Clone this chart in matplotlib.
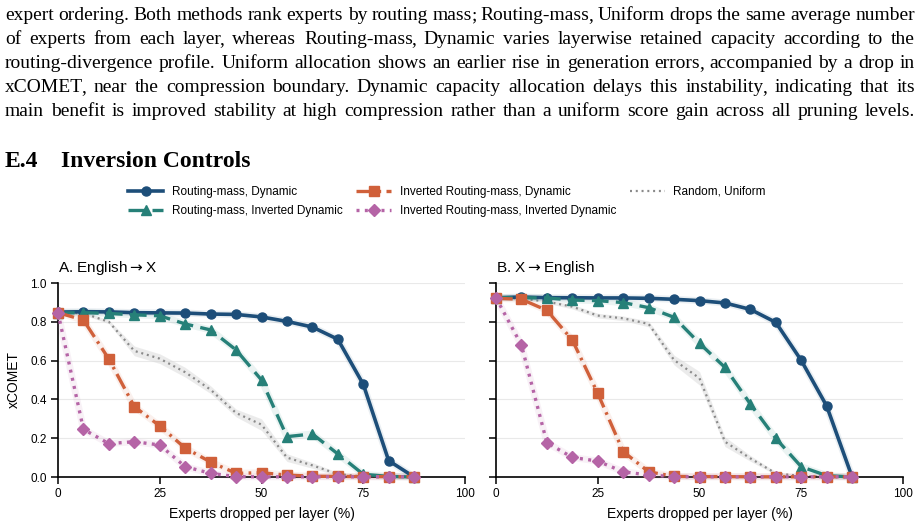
"""
Inversion controls: xCOMET vs. experts dropped per layer, two directions.
"""

import numpy as np
import matplotlib
matplotlib.use("Agg")
import matplotlib.pyplot as plt

# ---- data ----
drop_pct = [0, 6.25, 12.5, 18.75, 25, 31.25, 37.5, 43.75, 50, 56.25, 62.5, 68.75, 75, 81.25, 87.5]

# A. English->X
en_x_rm_dyn = [0.850, 0.852, 0.851, 0.847, 0.846, 0.845, 0.840, 0.838, 0.825, 0.802, 0.773, 0.710, 0.478, 0.084, 0.0]
en_x_rm_invdyn = [0.845, 0.847, 0.843, 0.836, 0.831, 0.789, 0.758, 0.655, 0.500, 0.208, 0.222, 0.119, 0.014, 0.003, 0.0]
en_x_inv_dyn = [0.847, 0.809, 0.608, 0.363, 0.263, 0.149, 0.077, 0.019, 0.022, 0.010, 0.004, 0.003, 0.002, 0.002, 0.001]
en_x_inv_invdyn = [0.847, 0.246, 0.172, 0.182, 0.165, 0.053, 0.019, 0.002, 0.001, 0.001, 0.001, 0.001, 0.001, 0.001, 0.001]
en_x_random = [0.847, 0.844, 0.800, 0.650, 0.610, 0.540, 0.450, 0.330, 0.270, 0.100, 0.060, 0.015, 0.003, 0.0, 0.0]
en_x_random_err = [0.005, 0.008, 0.010, 0.025, 0.025, 0.025, 0.020, 0.020, 0.030, 0.020, 0.015, 0.008, 0.003, 0.0, 0.0]

# B. X->English
x_en_rm_dyn = [0.924, 0.928, 0.924, 0.924, 0.923, 0.923, 0.921, 0.916, 0.909, 0.897, 0.864, 0.797, 0.601, 0.366, 0.0]
x_en_rm_invdyn = [0.924, 0.924, 0.923, 0.912, 0.909, 0.899, 0.873, 0.823, 0.689, 0.565, 0.376, 0.199, 0.053, 0.007, 0.0]
x_en_inv_dyn = [0.921, 0.916, 0.859, 0.706, 0.431, 0.131, 0.027, 0.003, 0.002, 0.002, 0.001, 0.001, 0.001, 0.001, 0.001]
x_en_inv_invdyn = [0.924, 0.680, 0.177, 0.101, 0.082, 0.027, 0.010, 0.002, 0.001, 0.001, 0.001, 0.001, 0.001, 0.001, 0.001]
x_en_random = [0.924, 0.920, 0.904, 0.878, 0.832, 0.818, 0.789, 0.603, 0.509, 0.182, 0.096, 0.019, 0.005, 0.0, 0.0]
x_en_random_err = [0.004, 0.005, 0.008, 0.012, 0.012, 0.012, 0.015, 0.025, 0.035, 0.025, 0.015, 0.008, 0.003, 0.0, 0.0]

panel_titles = ["A. English$\\rightarrow$X", "B. X$\\rightarrow$English"]
legend_labels = ["Routing-mass, Dynamic", "Routing-mass, Inverted Dynamic",
                 "Inverted Routing-mass, Dynamic", "Inverted Routing-mass, Inverted Dynamic",
                 "Random, Uniform"]

paragraph = [
    "expert ordering. Both methods rank experts by routing mass; Routing-mass, Uniform drops the same average number",
    "of experts from each layer, whereas Routing-mass, Dynamic varies layerwise retained capacity according to the",
    "routing-divergence profile. Uniform allocation shows an earlier rise in generation errors, accompanied by a drop in",
    "xCOMET, near the compression boundary. Dynamic capacity allocation delays this instability, indicating that its",
    "main benefit is improved stability at high compression rather than a uniform score gain across all pruning levels.",
]

# ---- styles ----
BLUE = "#1d4e79"
TEAL = "#268078"
ORANGE = "#d0603a"
PINK = "#b564a6"
GRAY = "#8a8a8a"

styles = [
    dict(color=BLUE, marker="o", markersize=6.5, linewidth=2.6, linestyle="-"),
    dict(color=TEAL, marker="^", markersize=7.5, linewidth=2.4, dashes=(5, 2.2)),
    dict(color=ORANGE, marker="s", markersize=6.5, linewidth=2.4, dashes=(5, 1.6, 0.8, 1.6)),
    dict(color=PINK, marker="D", markersize=6, linewidth=2.4, dashes=(0.9, 1.6)),
]

plt.rcParams["font.family"] = ["Liberation Sans", "DejaVu Sans"]
plt.rcParams["mathtext.fontset"] = "dejavusans"

W, H = 921, 530
fig = plt.figure(figsize=(W / 100, H / 100), dpi=100)


def fx(px):
    return px / W


def fy(py):
    return 1 - py / H


# ---- justified paragraph, one text per word ----
renderer = fig.canvas.get_renderer()
left_px, right_px = 5, 915
PUNCT_KERN = 1.5  # pull a split-off , or ; back against its word


def word_text(s, base):
    return fig.text(0, fy(base), s, fontsize=14.0, family="Liberation Serif",
                    va="baseline", ha="left")


for i, line in enumerate(paragraph):
    words = line.split(" ")
    base = 20 + 24 * i
    groups = []
    for w in words:
        # trailing , or ; drawn on its own keeps the baseline steady
        if w[-1] in ",;" and len(w) > 1:
            t1, t2 = word_text(w[:-1], base), word_text(w[-1], base)
            groups.append([(t1, t1.get_window_extent(renderer).width - PUNCT_KERN),
                           (t2, t2.get_window_extent(renderer).width)])
        else:
            t = word_text(w, base)
            groups.append([(t, t.get_window_extent(renderer).width)])
    widths = [sum(pw for _, pw in g) for g in groups]
    gap = (right_px - left_px - sum(widths)) / (len(words) - 1)
    x = left_px
    for g, gw in zip(groups, widths):
        xp = x
        for t, pw in g:
            t.set_x(fx(xp))
            xp += pw
        x += gw + gap

fig.text(fx(5), fy(167), "E.4", fontsize=17, family="Liberation Serif",
         weight="bold", va="baseline")
fig.text(fx(61), fy(167), "Inversion Controls", fontsize=17, family="Liberation Serif",
         weight="bold", va="baseline")

# ---- panels ----
ax_a = fig.add_axes([fx(58), fy(477), fx(407), 194 / H])
ax_b = fig.add_axes([fx(496), fy(477), fx(407), 194 / H], sharey=ax_a)

panels = [
    (ax_a, [en_x_rm_dyn, en_x_rm_invdyn, en_x_inv_dyn, en_x_inv_invdyn], en_x_random, en_x_random_err),
    (ax_b, [x_en_rm_dyn, x_en_rm_invdyn, x_en_inv_dyn, x_en_inv_invdyn], x_en_random, x_en_random_err),
]

x = np.array(drop_pct)
handles = []
for k, (ax, series, rand, rand_err) in enumerate(panels):
    rand = np.array(rand)
    rand_err = np.array(rand_err)
    ax.fill_between(x, rand - rand_err, rand + rand_err, color="#d9d9d9", alpha=0.5,
                    linewidth=0, zorder=1)
    h_rand, = ax.plot(x, rand, color=GRAY, linewidth=1.6, dashes=(0.9, 1.7), zorder=2)

    hs = []
    for y, st in zip(series, styles):
        # faint halo under each line
        ax.plot(x, y, color=st["color"], linewidth=5, alpha=0.09, solid_capstyle="round", zorder=3)
        h, = ax.plot(x, y, zorder=4, **st)
        hs.append(h)
    if k == 0:
        handles = hs + [h_rand]

    ax.set_xlim(0, 100)
    ax.set_ylim(0, 1.0)
    ax.set_xticks([0, 25, 50, 75, 100])
    ax.set_yticks([0.0, 0.2, 0.4, 0.6, 0.8, 1.0])
    ax.yaxis.grid(True, color="#e9e9e9", linewidth=0.8)
    ax.set_axisbelow(True)
    for s in ["top", "right"]:
        ax.spines[s].set_visible(False)
    for s in ["left", "bottom"]:
        ax.spines[s].set_linewidth(1.2)
    ax.tick_params(axis="both", length=5, width=1.1, labelsize=8.5, pad=3)
    ax.set_xlabel("Experts dropped per layer (%)", fontsize=10, labelpad=5)
    ax.set_title(panel_titles[k], loc="left", fontsize=11, pad=8)
    for line in ax.get_lines():
        line.set_clip_on(False)

ax_a.set_ylabel("xCOMET", fontsize=10, labelpad=7)
plt.setp(ax_b.get_yticklabels(), visible=False)

fig.legend(handles, legend_labels, ncol=3, loc="upper left",
           bbox_to_anchor=(fx(128), fy(186)), frameon=False, fontsize=8.5,
           handlelength=3.0, handletextpad=0.7, columnspacing=1.15,
           labelspacing=0.6, borderpad=0, borderaxespad=0)

fig.savefig("out.png", dpi=100)
